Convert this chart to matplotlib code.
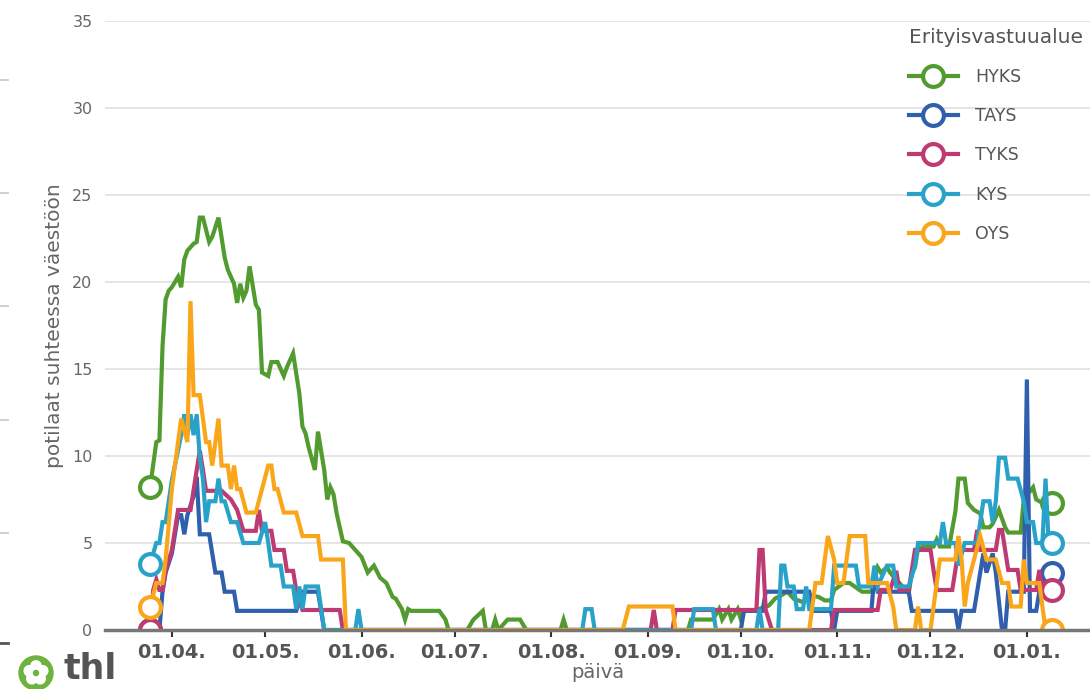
import datetime
import numpy as np
import matplotlib
matplotlib.use('Agg')
import matplotlib.pyplot as plt
import matplotlib.dates as mdates
from matplotlib.patches import Circle
from matplotlib.lines import Line2D

# paivat laskettu 1.4.2020 alkaen, arvot luettu kuvasta
hyks_days = [-7, -5, -4, -3, -2, -1, 0, 2, 3, 4, 5, 7, 8, 9, 10, 12, 13, 15, 17, 18, 20, 21, 22, 23, 24, 25, 27, 28, 29, 31,
             32, 34, 36, 37, 39, 41, 42, 43, 44, 46, 47, 49, 50, 51, 52, 53, 55, 57, 59, 61, 63, 65, 67, 69, 71, 72, 74, 75, 76, 77,
             86, 88, 89, 95, 97, 100, 101, 103, 104, 105, 108, 112, 114, 125, 126, 127, 166, 167, 174, 176, 177, 179, 180, 182, 183, 184,
             187, 192, 194, 198, 200, 203, 205, 208, 210, 212, 213, 216, 218, 222, 225, 226, 227, 228, 230, 231, 233, 235, 237, 238,
             239, 240, 242, 245, 246, 247, 250, 252, 253, 255, 256, 258, 260, 261, 263, 264, 266, 268, 269, 273, 274, 277, 278, 280, 283]
hyks_vals = [8.2, 10.8, 10.9, 16.3, 19.0, 19.5, 19.7, 20.3, 19.7, 21.3, 21.8, 22.2, 22.3, 23.7, 23.7, 22.3, 22.6, 23.7, 21.4, 20.7,
             19.9, 18.8, 19.9, 19.1, 19.5, 20.9, 18.7, 18.4, 14.8, 14.6, 15.4, 15.4, 14.6, 15.1, 15.9, 13.6, 11.7, 11.3, 10.5, 9.2,
             11.4, 9.2, 7.5, 8.2, 7.8, 6.7, 5.1, 5.0, 4.6, 4.2, 3.3, 3.7, 3.0, 2.7, 1.9, 1.8, 1.2, 0.6, 1.2, 1.1,
             1.1, 0.6, 0, 0, 0.6, 1.1, 0, 0, 0.6, 0, 0.6, 0.6, 0, 0, 0.6, 0, 0, 0.6, 0.6, 1.2, 0.6, 1.2, 0.6, 1.2, 0.6, 1.1,
             1.1, 1.4, 1.8, 2.2, 1.8, 1.6, 2.0, 1.9, 1.7, 1.7, 2.3, 2.7, 2.7, 2.2, 2.2, 3.0, 3.6, 3.3, 3.6, 3.3, 2.9, 2.5, 2.1, 3.3,
             3.6, 4.7, 4.8, 4.8, 5.2, 4.8, 4.8, 6.8, 8.7, 8.7, 7.3, 6.9, 6.7, 5.9, 5.9, 6.1, 6.9, 5.9, 5.6, 5.6, 7.5, 8.2, 7.5, 7.3, 7.3]

tays_days = [-7, -4, -3, -2, 0, 2, 3, 4, 5, 7, 8, 9, 12, 13, 14, 16, 17, 20, 21, 40, 42, 47, 49, 183, 184, 190, 191, 205, 206, 212, 213,
             214, 225, 226, 227, 237, 238, 252, 253, 254, 258, 260, 261, 262, 264, 265, 267, 268, 269, 273, 274, 275, 276, 278, 279, 281, 283]
tays_vals = [0, 0, 2.2, 3.3, 4.4, 6.6, 6.6, 5.5, 6.6, 7.7, 8.8, 5.5, 5.5, 4.4, 3.3, 3.3, 2.2, 2.2, 1.1, 1.1, 2.2, 2.2, 0, 0, 1.1, 1.1, 2.2, 2.2, 1.1, 1.1, 0,
             1.1, 1.1, 3.3, 2.2, 2.2, 1.1, 1.1, 0, 1.1, 1.1, 3.3, 4.4, 3.3, 4.4, 3.3, 0, 0, 2.2, 2.2, 2.2, 14.4, 1.1, 1.1, 2.2, 3.3, 3.3]

tyks_days = [-7, -6, -5, -4, -3, -2, 0, 2, 6, 8, 9, 10, 11, 16, 19, 21, 23, 27, 28, 29, 32, 33, 36, 37, 39, 40, 42, 54, 55, 154,
             155, 156, 161, 162, 188, 189, 190, 191, 193, 212, 213, 227, 228, 231, 233, 234, 237, 239, 244, 245, 246, 251, 253, 258, 259,
             260, 265, 266, 267, 268, 269, 272, 273, 278, 279, 280, 283]
tyks_vals = [0, 2.3, 2.9, 2.3, 2.3, 3.4, 4.6, 6.9, 6.9, 9.2, 10.3, 9.2, 8.0, 8.0, 7.5, 6.9, 5.7, 5.7, 6.9, 5.7, 5.7, 4.6, 4.6, 3.4, 3.4, 2.3, 1.15, 1.15, 0, 0,
             1.15, 0, 0, 1.15, 1.15, 4.6, 4.6, 1.15, 0, 0, 1.15, 1.15, 2.3, 2.3, 3.4, 2.3, 2.3, 4.6, 4.6, 3.4, 2.3, 2.3, 4.6, 4.6, 5.75,
             4.6, 4.6, 5.75, 5.75, 4.6, 3.45, 3.45, 2.3, 2.3, 3.45, 2.3, 2.3]

kys_days = [-7, -5, -4, -3, -2, 0, 3, 4, 5, 6, 7, 8, 9, 10, 11, 12, 14, 15, 16, 17, 19, 21, 23, 28, 30, 31, 32, 35, 36, 39,
            40, 41, 42, 43, 47, 49, 59, 60, 61, 132, 133, 135, 136, 167, 168, 174, 175, 188, 189, 190, 195, 196, 197, 198, 200, 201, 203, 204, 205, 212,
            213, 220, 221, 225, 226, 227, 230, 232, 233, 237, 239, 240, 247, 248, 249, 252, 253, 255, 259, 260, 261, 263, 264, 265, 266,
            268, 269, 272, 274, 275, 277, 278, 280, 281, 282, 283]
kys_vals = [3.8, 5.0, 5.0, 6.2, 6.2, 8.6, 11.2, 12.4, 11.2, 12.4, 11.2, 12.4, 9.9, 8.7, 6.2, 7.4, 7.4, 8.7, 7.4, 7.4, 6.2, 6.2, 5.0, 5.0, 6.2, 5.0, 3.7, 3.7, 2.5, 2.5,
            1.2, 2.5, 1.2, 2.5, 2.5, 0, 0, 1.2, 0, 0, 1.2, 1.2, 0, 0, 1.2, 1.2, 0, 0, 1.2, 0, 0, 3.7, 3.7, 2.5, 2.5, 1.2, 1.2, 2.5, 1.2, 1.2,
            3.7, 3.7, 2.5, 2.5, 3.7, 2.5, 3.7, 3.7, 2.5, 2.5, 3.7, 5.0, 5.0, 6.2, 5.0, 5.0, 3.7, 5.0, 5.0, 6.2, 7.4, 7.4, 6.2, 7.4, 9.9,
            9.9, 8.7, 8.7, 7.4, 6.2, 6.2, 5.0, 5.0, 8.7, 5.0, 5.0]

oys_days = [-7, -5, -3, -2, 0, 2, 3, 5, 6, 7, 9, 10, 11, 12, 13, 14, 15, 16, 18, 19, 20, 21, 22, 24, 27, 29, 31, 32, 33, 34,
            36, 40, 42, 47, 48, 55, 56, 145, 147, 161, 162, 205, 207, 209, 211, 213, 214, 216, 218, 223, 224, 230, 232, 233, 239, 240, 241,
            244, 246, 247, 252, 253, 254, 255, 256, 258, 260, 262, 265, 267, 269, 270, 273, 274, 275, 279, 280, 281, 283]
oys_vals = [1.35, 2.7, 2.7, 4.05, 8.1, 10.8, 12.15, 10.8, 18.9, 13.5, 13.5, 12.15, 10.8, 10.8, 9.45, 10.8, 12.15, 9.45, 9.45, 8.1,
            9.45, 8.1, 8.1, 6.75, 6.75, 8.1, 9.45, 9.45, 8.1, 8.1, 6.75, 6.75, 5.4, 5.4, 4.05, 4.05, 0, 0, 1.35, 1.35, 0, 0, 2.7, 2.7,
            5.4, 4.05, 2.7, 2.7, 5.4, 5.4, 2.7, 2.7, 1.35, 0, 0, 1.35, 0, 0, 2.7, 4.05, 4.05, 5.4, 4.05, 1.35, 2.7, 4.05, 5.4, 4.05,
            4.05, 2.7, 2.7, 1.35, 1.35, 4.05, 2.7, 2.7, 1.35, 0, 0]

names = ['HYKS', 'TAYS', 'TYKS', 'KYS', 'OYS']
colors = ['#519b2f', '#2f5fad', '#be3a72', '#29a2c9', '#faa61a']
series = [(hyks_days, hyks_vals), (tays_days, tays_vals), (tyks_days, tyks_vals),
          (kys_days, kys_vals), (oys_days, oys_vals)]

base = datetime.date(2020, 4, 1)

fig = plt.figure(figsize=(10.9, 6.89), dpi=100)
ax = fig.add_axes([105/1090, 1-630/689, 985/1090, 609/689])

for name, col, (d, v) in zip(names, colors, series):
    dates = [base + datetime.timedelta(days=int(k)) for k in d]
    ax.plot(dates, v, color=col, lw=3, label=name, marker='o', markevery=[0, -1],
            markersize=15, markerfacecolor='white', markeredgecolor=col, markeredgewidth=3,
            solid_joinstyle='miter')

b = mdates.date2num(base)
ax.set_xlim(b - 21.5, b + 295.3)
ax.set_ylim(0, 35)
ax.set_yticks(range(0, 36, 5))
ax.xaxis.set_major_locator(mdates.MonthLocator())
ax.xaxis.set_major_formatter(mdates.DateFormatter('%d.%m.'))

ax.grid(axis='y', color='#e3e3e3', lw=1.3)
ax.set_axisbelow(True)
for s in ['left', 'right', 'top']:
    ax.spines[s].set_visible(False)
ax.spines['bottom'].set_color('#777777')
ax.spines['bottom'].set_linewidth(2.5)
ax.tick_params(axis='y', length=0, pad=9, labelsize=11.5, labelcolor='#666666')
ax.tick_params(axis='x', length=5, width=1.5, color='#333333', pad=4, labelsize=14, labelcolor='#555555')
for t in ax.get_xticklabels():
    t.set_fontweight('bold')

ax.set_ylabel('potilaat suhteessa väestöön', fontsize=14.5, color='#666666', labelpad=6)
ax.set_xlabel('päivä', fontsize=14, color='#666666', labelpad=1)

leg = ax.legend(loc='upper right', bbox_to_anchor=(1.0, 1 - 21/689), bbox_transform=fig.transFigure,
                frameon=False, title='Erityisvastuualue', fontsize=12.5, title_fontsize=14.5,
                handlelength=2.8, handletextpad=1.0, labelspacing=1.22, alignment='left',
                borderpad=0.4, borderaxespad=0)
for t in leg.get_texts():
    t.set_color('#555555')
leg.get_title().set_color('#555555')

# reunan jaannokset viereisesta kuvasta
for yy, c in [(80, '#cccccc'), (193, '#cccccc'), (306, '#cccccc'), (420, '#cccccc'), (533, '#cccccc'), (643, '#555555')]:
    fig.add_artist(Line2D([0, 8/1090], [1-yy/689, 1-yy/689], color=c, lw=2 if c == '#555555' else 1.3,
                          transform=fig.transFigure))

# thl-logo
cx, cy, r = 0.36, (689-673)/100, 0.17
fig.add_artist(Circle((cx, cy), r, transform=fig.dpi_scale_trans, color='#6cb33f'))
for k in range(5):
    a = np.pi/2 + k*2*np.pi/5
    fig.add_artist(Circle((cx + 0.07*np.cos(a), cy + 0.07*np.sin(a)), 0.052,
                          transform=fig.dpi_scale_trans, color='white'))
fig.add_artist(Circle((cx, cy), 0.025, transform=fig.dpi_scale_trans, color='#6cb33f'))
fig.text(63/1090, 3/689, 'thl', fontsize=25, fontweight='bold', color='#555555', va='bottom')

fig.savefig('out.png', dpi=100)
